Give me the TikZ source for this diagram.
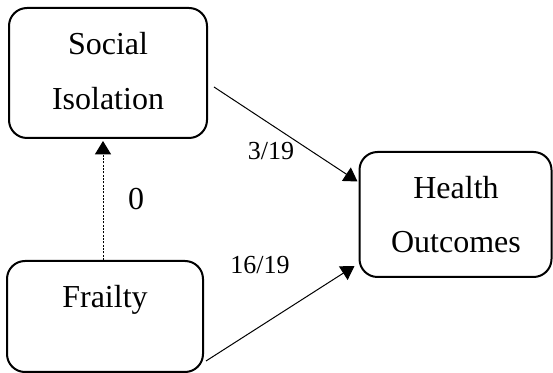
\documentclass[tikz,border=0pt]{standalone}
\usepackage{fontspec}
\setmainfont{Liberation Serif}
\usetikzlibrary{calc,arrows.meta}
\begin{document}
\begin{tikzpicture}[x=0.75pt,y=-0.75pt,
  box/.style={draw,line width=1.5pt,rounded corners=13.5pt,inner sep=0pt},
  boxtext/.style={anchor=base,inner sep=0pt,font=\fontsize{24}{28}\selectfont},
  lbl/.style={anchor=base,inner sep=0pt,font=\fontsize{19.5}{22}\selectfont},
  link/.style={line width=0.75pt,-{Triangle[length=10pt,width=12pt]}}]
\useasboundingbox (0,0) rectangle (553,373);
% boxes
\node[box,minimum width=148.5pt,minimum height=97.5pt] (SI) at (108,73) {};
\node[box,minimum width=147pt,minimum height=83.25pt] (FR) at (105,316.5) {};
\node[box,minimum width=144pt,minimum height=93.75pt] (HO) at (455.5,214.5) {};
% box texts
\node[boxtext] (si1) at (108,55) {Social};
\node[boxtext] (si2) at (108,110) {Isolation};
\node[boxtext] (fr1) at (105,308) {Frailty};
\node[boxtext] (ho1) at (456,199) {Health};
\node[boxtext] (ho2) at (456,253) {Outcomes};
% connectors
\draw[link] ($(SI.east)+(6,14)$) -- ($(HO.west)+(-1,-33)$);
\draw[link] ($(FR.east)+(2,44.5)$) -- ($(HO.west)+(-4,51.5)$);
\draw[link,dash pattern=on 1.5pt off 1pt] ($(FR.north)+(-2,0)$) -- ($(SI.south)+(-5,2)$);
% path coefficients
\node[lbl] (l1) at (271,160) {3/19};
\node[lbl] (l2) at (260,274) {16/19};
\node[boxtext] (l3) at (136,210) {0};
\end{tikzpicture}
\end{document}
